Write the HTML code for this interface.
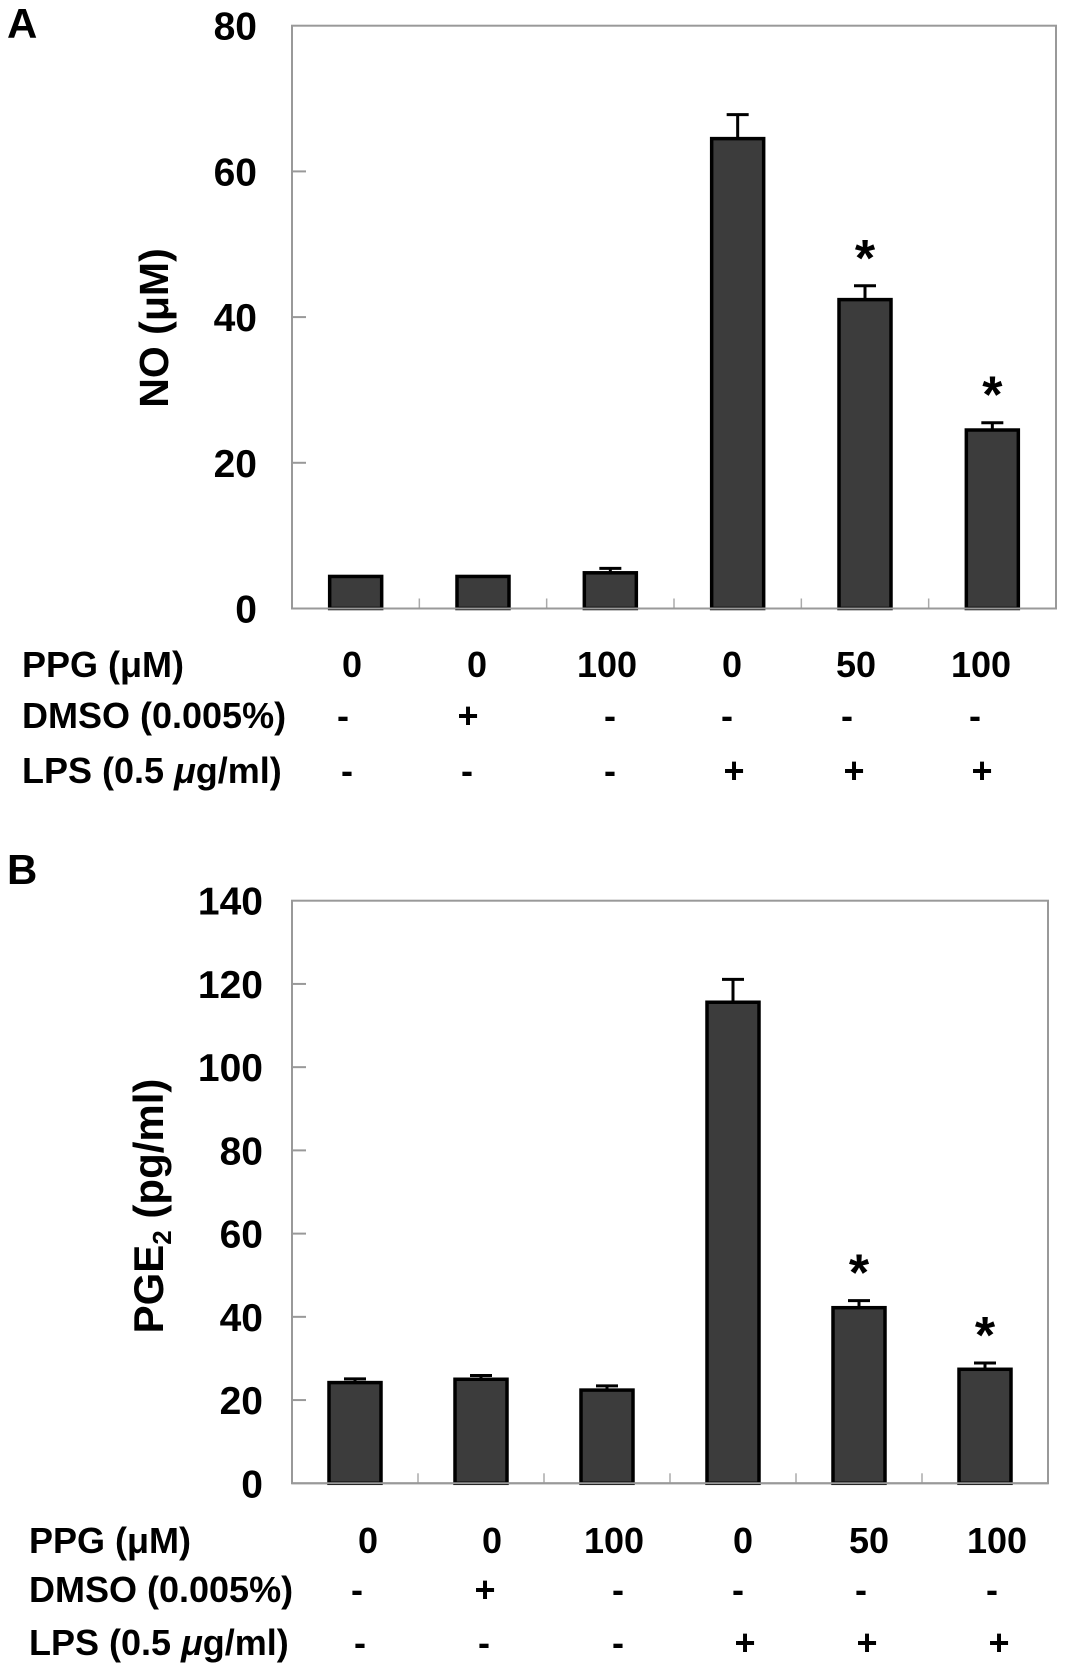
<!DOCTYPE html>
<html><head><meta charset="utf-8"><style>
html,body{margin:0;padding:0;background:#fff;}
svg{display:block;font-family:"Liberation Sans",Arial,sans-serif;font-weight:bold;}
</style></head><body>
<svg id="fig" width="1068" height="1666" viewBox="0 0 1068 1666" xmlns="http://www.w3.org/2000/svg">
<text x="7" y="38" font-size="42">A</text>
<text x="7" y="884" font-size="42">B</text>
<g id="gA"></g>
<g id="gB"></g>

<text transform="translate(168,328) rotate(-90)" text-anchor="middle" font-size="41">NO (μM)</text>
<text transform="translate(163,1206) rotate(-90)" text-anchor="middle" font-size="42">PGE<tspan font-size="26" dy="8">2</tspan><tspan dy="-8"> (pg/ml)</tspan></text>

<g font-size="36">
<text x="22" y="677">PPG (μM)</text>
<text x="22" y="728">DMSO (0.005%)</text>
<text x="22" y="783">LPS (0.5 <tspan font-style="italic">μ</tspan>g/ml)</text>
<g text-anchor="middle">
<text x="352" y="677">0</text><text x="477" y="677">0</text><text x="607" y="677">100</text><text x="732" y="677">0</text><text x="856" y="677">50</text><text x="981" y="677">100</text>
<text x="343" y="728">-</text><text x="468" y="728">+</text><text x="610" y="728">-</text><text x="727" y="728">-</text><text x="847" y="728">-</text><text x="975" y="728">-</text>
<text x="347" y="783">-</text><text x="467" y="783">-</text><text x="610" y="783">-</text><text x="734" y="783">+</text><text x="854" y="783">+</text><text x="982" y="783">+</text>
</g></g>

<g font-size="36">
<text x="29" y="1553">PPG (μM)</text>
<text x="29" y="1602">DMSO (0.005%)</text>
<text x="29" y="1655">LPS (0.5 <tspan font-style="italic">μ</tspan>g/ml)</text>
<g text-anchor="middle">
<text x="368" y="1553">0</text><text x="492" y="1553">0</text><text x="614" y="1553">100</text><text x="743" y="1553">0</text><text x="869" y="1553">50</text><text x="997" y="1553">100</text>
<text x="357" y="1602">-</text><text x="485" y="1602">+</text><text x="618" y="1602">-</text><text x="738" y="1602">-</text><text x="861" y="1602">-</text><text x="992" y="1602">-</text>
<text x="360" y="1655">-</text><text x="484" y="1655">-</text><text x="618" y="1655">-</text><text x="745" y="1655">+</text><text x="867" y="1655">+</text><text x="999" y="1655">+</text>
</g></g>
</svg>
<script>
const categories = ["ctrl", "DMSO", "PPG100", "LPS", "LPS+PPG50", "LPS+PPG100"];
const noValues = [4.4, 4.4, 4.9, 64.5, 42.4, 24.5];
const noErrors = [0, 0, 0.6, 3.3, 1.9, 1.0];
const noSig = [false, false, false, false, true, true];
const noTicks = [0, 20, 40, 60, 80];
const pgeValues = [24.2, 25.0, 22.4, 115.6, 42.2, 27.4];
const pgeErrors = [0.9, 0.9, 1.0, 5.5, 1.7, 1.5];
const pgeSig = [false, false, false, false, true, true];
const pgeTicks = [0, 20, 40, 60, 80, 100, 120, 140];

const NS = "http://www.w3.org/2000/svg";
function mk(parent, tag, attrs) {
  const e = document.createElementNS(NS, tag);
  for (const k in attrs) e.setAttribute(k, attrs[k]);
  parent.appendChild(e);
  return e;
}
function drawChart(g, cfg, values, errors, sig, ticks, key) {
  const {left, right, top, bottom, max, labelRight} = cfg;
  const y = v => bottom - (v / max) * (bottom - top);
  const bw = (right - left) / categories.length;
  const x = i => left + bw * (i + 0.5);
  const frame = mk(g, "rect", {x: left, y: top, width: right - left, height: bottom - top, fill: "none", stroke: "#999", "stroke-width": 2});
  
  
  ticks.forEach(t => {
    if (t > 0 && t < max) mk(g, "line", {x1: left, x2: left + 14, y1: y(t), y2: y(t), stroke: "#999", "stroke-width": 2});
    const lab = mk(g, "text", {x: labelRight, y: y(t) + 14, "text-anchor": "end", "font-size": 39});
    lab.textContent = t;
    
    
  });
  for (let i = 1; i < categories.length; i++) {
    mk(g, "line", {x1: left + bw * i, x2: left + bw * i, y1: bottom, y2: bottom - 10, stroke: "#aaa", "stroke-width": 1.5});
  }
  values.forEach((v, i) => {
    const cx = x(i), w = 52;
    if (errors[i] > 0) {
      const el = mk(g, "path", {d: `M${cx} ${y(v)} V${y(v + errors[i])} M${cx - 11} ${y(v + errors[i])} H${cx + 11}`, stroke: "#000", "stroke-width": 3, fill: "none"});
      
      
    }
    const r = mk(g, "rect", {x: cx - w / 2, y: y(v), width: w, height: bottom - y(v), fill: "#3c3c3c", stroke: "#000", "stroke-width": 3.5});
    
    
    if (sig[i]) {
      const s = mk(g, "text", {x: cx, y: y(v + errors[i]) - 10, "text-anchor": "middle", "font-size": 52});
      s.textContent = "*";
      
      
    }
  });
  mk(g, "line", {x1: left, x2: right, y1: bottom, y2: bottom, stroke: "#999", "stroke-width": 2});
}
drawChart(document.getElementById("gA"), {left: 292, right: 1056, top: 25.7, bottom: 608.5, max: 80, labelRight: 257}, noValues, noErrors, noSig, noTicks, "a");
drawChart(document.getElementById("gB"), {left: 292, right: 1048, top: 900.7, bottom: 1483.3, max: 140, labelRight: 263}, pgeValues, pgeErrors, pgeSig, pgeTicks, "b");
</script>
</body></html>
